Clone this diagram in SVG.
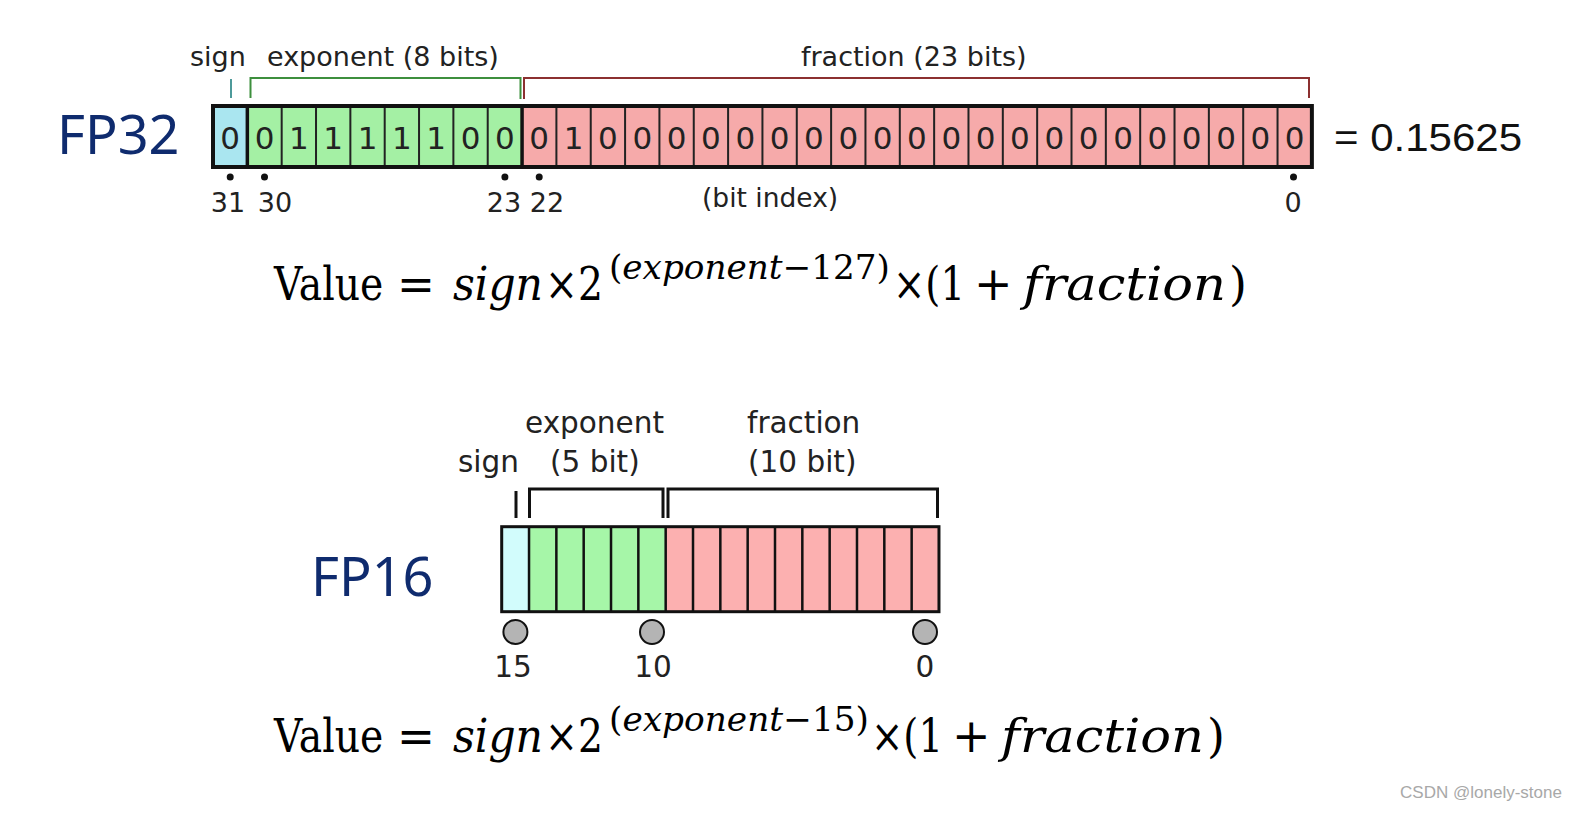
<svg xmlns="http://www.w3.org/2000/svg" width="1574" height="814" viewBox="0 0 1574 814">
<style>
.lbl{font-family:"DejaVu Sans",sans-serif;fill:#222;}
.big{font-family:"Noto Sans","Open Sans",sans-serif;font-size:54px;fill:#0f2b6e;}
.bit{font-family:"DejaVu Sans",sans-serif;font-size:31px;fill:#222;text-anchor:middle;}
.f{font-family:"DejaVu Serif","Liberation Serif",serif;fill:#000;font-size:46px;}
.fs{font-family:"DejaVu Serif","Liberation Serif",serif;fill:#000;font-size:34px;}
.it{font-style:italic;}
.div32{stroke:#222;stroke-width:2;}
.div16{stroke:#111;stroke-width:2.5;}
.br{fill:none;stroke-width:2;}
.br16{fill:none;stroke:#111;stroke-width:3;}
</style>
<rect width="1574" height="814" fill="#fff"/>

<g id="fp32">
  <text class="big" x="57" y="154">FP32</text>
  <text class="lbl" x="190" y="66" font-size="27">sign</text>
  <text class="lbl" x="267" y="66" font-size="27">exponent (8 bits)</text>
  <text class="lbl" x="801" y="66" font-size="27">fraction (23 bits)</text>
  <g id="fp32-brackets">
    <path class="br" stroke="#4d9a9a" d="M231 79 V98"/>
    <path class="br" stroke="#3d8f3d" d="M250.5 98 V78 H520.5 V99"/>
    <path class="br" stroke="#8c3030" d="M524 99 V78 H1309 V98"/>
  </g>
  <rect x="213" y="106" width="34.34" height="61" fill="#aae6f0"/>
  <rect x="247.34" y="106" width="274.72" height="61" fill="#a4f0a4"/>
  <rect x="522.06" y="106" width="789.82" height="61" fill="#f6aaaa"/>
  <path class="div32" d="M281.68 106V167M316.02 106V167M350.36 106V167M384.7 106V167M419.04 106V167M453.38 106V167M487.72 106V167M556.4 106V167M590.74 106V167M625.08 106V167M659.42 106V167M693.76 106V167M728.1 106V167M762.44 106V167M796.78 106V167M831.12 106V167M865.46 106V167M899.8 106V167M934.14 106V167M968.48 106V167M1002.82 106V167M1037.16 106V167M1071.5 106V167M1105.84 106V167M1140.18 106V167M1174.52 106V167M1208.86 106V167M1243.2 106V167M1277.54 106V167"/>
  <path stroke="#111" stroke-width="3.5" d="M247.34 106V167M522.06 106V167"/>
  <rect x="213" y="106" width="1098.88" height="61" fill="none" stroke="#111" stroke-width="4"/>
  <text class="bit" y="149" x="230.17 264.51 298.85 333.19 367.53 401.87 436.21 470.55 504.89 539.23 573.57 607.91 642.25 676.59 710.93 745.27 779.61 813.95 848.29 882.63 916.97 951.31 985.65 1019.99 1054.33 1088.67 1123.01 1157.35 1191.69 1226.03 1260.37 1294.71">00111110001000000000000000000000</text>
  <g fill="#111">
    <circle cx="230.2" cy="177" r="3.5"/>
    <circle cx="264.5" cy="177" r="3.5"/>
    <circle cx="504.9" cy="177" r="3.5"/>
    <circle cx="539.2" cy="177" r="3.5"/>
    <circle cx="1293.5" cy="177" r="3.5"/>
  </g>
  <g class="lbl" font-size="27" text-anchor="middle">
    <text x="228" y="212">31</text>
    <text x="275" y="212">30</text>
    <text x="504" y="212">23</text>
    <text x="547" y="212">22</text>
    <text x="1293" y="212">0</text>
  </g>
  <text class="lbl" x="702" y="207" font-size="26.5">(bit index)</text>
  <text x="1334" y="151" font-family="Liberation Sans, Arial, sans-serif" font-size="38" fill="#111" textLength="188" lengthAdjust="spacingAndGlyphs">= 0.15625</text>
</g>

<g id="formula32">
  <text class="f" transform="translate(274 300) scale(0.855 1)">Value</text>
  <text class="f" x="397" y="300" textLength="38" lengthAdjust="spacingAndGlyphs">=</text>
  <text class="f it" x="453" y="300" textLength="90" lengthAdjust="spacingAndGlyphs">sign</text>
  <text class="f" transform="translate(545 300) scale(0.855 1)">×2</text>
  <text class="fs" x="609" y="279" textLength="281" lengthAdjust="spacingAndGlyphs">(<tspan class="it">exponent</tspan>−127)</text>
  <text class="f" transform="translate(893 300) scale(0.84 1)">×(1</text>
  <text class="f" x="974" y="300">+</text>
  <text class="f it" x="1023" y="300" textLength="203" lengthAdjust="spacingAndGlyphs">fraction</text>
  <text class="f" x="1229" y="300">)</text>
</g>

<g id="fp16">
  <text class="big" x="311" y="596">FP16</text>
  <text class="lbl" x="525" y="433" font-size="29.5">exponent</text>
  <text class="lbl" x="550" y="472" font-size="29.5">(5 bit)</text>
  <text class="lbl" x="458" y="472" font-size="29.5">sign</text>
  <text class="lbl" x="747" y="433" font-size="29.5">fraction</text>
  <text class="lbl" x="748" y="472" font-size="29.5">(10 bit)</text>
  <g id="fp16-brackets">
    <path class="br16" d="M516 491 V518"/>
    <path class="br16" d="M529.5 518 V489 H663 V518"/>
    <path class="br16" d="M668 518 V489 H937.5 V518"/>
  </g>
  <rect x="501.7" y="526.7" width="27.33" height="85" fill="#d2fcfc"/>
  <rect x="529.03" y="526.7" width="136.65" height="85" fill="#a6f6a8"/>
  <rect x="665.68" y="526.7" width="273.3" height="85" fill="#fcb0b0"/>
  <path class="div16" d="M529.03 526.7V611.7M556.36 526.7V611.7M583.69 526.7V611.7M611.02 526.7V611.7M638.35 526.7V611.7M665.68 526.7V611.7M693.01 526.7V611.7M720.34 526.7V611.7M747.67 526.7V611.7M775 526.7V611.7M802.33 526.7V611.7M829.66 526.7V611.7M856.99 526.7V611.7M884.32 526.7V611.7M911.65 526.7V611.7"/>
  <rect x="501.7" y="526.7" width="437.28" height="85" fill="none" stroke="#111" stroke-width="3"/>
  <g fill="#b4b4b4" stroke="#111" stroke-width="2">
    <circle cx="515.4" cy="632" r="12"/>
    <circle cx="652" cy="632" r="12"/>
    <circle cx="925" cy="632" r="12"/>
  </g>
  <g class="lbl" font-size="29.5" text-anchor="middle">
    <text x="513" y="677">15</text>
    <text x="653" y="677">10</text>
    <text x="925" y="677">0</text>
  </g>
</g>

<g id="formula16">
  <text class="f" transform="translate(274 752) scale(0.855 1)">Value</text>
  <text class="f" x="397" y="752" textLength="38" lengthAdjust="spacingAndGlyphs">=</text>
  <text class="f it" x="453" y="752" textLength="90" lengthAdjust="spacingAndGlyphs">sign</text>
  <text class="f" transform="translate(545 752) scale(0.855 1)">×2</text>
  <text class="fs" x="609" y="731" textLength="260" lengthAdjust="spacingAndGlyphs">(<tspan class="it">exponent</tspan>−15)</text>
  <text class="f" transform="translate(871 752) scale(0.84 1)">×(1</text>
  <text class="f" x="952" y="752">+</text>
  <text class="f it" x="1001" y="752" textLength="203" lengthAdjust="spacingAndGlyphs">fraction</text>
  <text class="f" x="1207" y="752">)</text>
</g>

<text id="watermark" x="1400" y="798" font-family="Liberation Sans, Arial, sans-serif" font-size="17" fill="#a8a8a8" textLength="162" lengthAdjust="spacingAndGlyphs">CSDN @lonely-stone</text>
</svg>
